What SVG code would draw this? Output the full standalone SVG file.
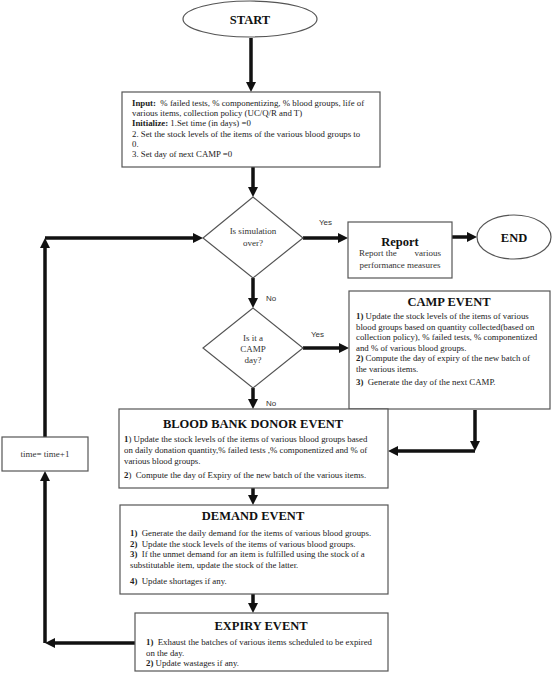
<svg xmlns="http://www.w3.org/2000/svg" width="553" height="673" viewBox="0 0 553 673">
<style>
.box{fill:#fff;stroke:#555;stroke-width:1.2}
.t{font-family:"Liberation Serif","Times New Roman",serif;font-size:8.8px;fill:#222;white-space:pre}
.dt{font-family:"Liberation Serif","Times New Roman",serif;font-size:9px;fill:#333;text-anchor:middle}
.h{font-family:"Liberation Serif","Times New Roman",serif;font-size:12.5px;font-weight:bold;fill:#111;text-anchor:middle}
.lbl{font-family:"Liberation Sans",Arial,sans-serif;font-size:8px;fill:#333}
.b{font-weight:bold}
.c{fill:none;stroke:#111;stroke-width:3.5}
</style>
<defs>
<marker id="ah" viewBox="0 0 10 10" refX="5" refY="5" markerWidth="10" markerHeight="10" markerUnits="userSpaceOnUse" orient="auto">
<path d="M0,0 L10,5 L0,10 z" fill="#111"/>
</marker>
</defs>
<rect width="553" height="673" fill="#fff"/>

<g id="connectors">
<path class="c" marker-end="url(#ah)" d="M251,38 V87"/>
<path class="c" marker-end="url(#ah)" d="M253,167 V192"/>
<path class="c" marker-end="url(#ah)" d="M303,238 H343"/>
<path class="c" marker-end="url(#ah)" d="M452,237 H472"/>
<path class="c" marker-end="url(#ah)" d="M253,278 V303"/>
<path class="c" marker-end="url(#ah)" d="M303,348 H344"/>
<path class="c" marker-end="url(#ah)" d="M253,388 V404"/>
<path class="c" marker-end="url(#ah)" d="M475,410 V446"/>
<path class="c" marker-end="url(#ah)" d="M475,451 H393"/>
<path class="c" marker-end="url(#ah)" d="M253,488 V500"/>
<path class="c" marker-end="url(#ah)" d="M253,594 V608"/>
<path class="c" marker-end="url(#ah)" d="M135,643 H50"/>
<path class="c" marker-end="url(#ah)" d="M45,643 V476"/>
<path class="c" marker-end="url(#ah)" d="M45,437 V243"/>
<path class="c" marker-end="url(#ah)" d="M45,238 H198"/>
<text class="lbl" x="319" y="225">Yes</text>
<text class="lbl" x="266" y="301">No</text>
<text class="lbl" x="311" y="337">Yes</text>
<text class="lbl" x="266" y="406">No</text>
</g>

<g id="start">
<ellipse cx="250" cy="19" rx="67" ry="18" class="box"/>
<text class="h" x="250" y="24">START</text>
</g>

<g id="input">
<rect class="box" x="122" y="92" width="258" height="75"/>
<text class="t" x="132" y="106"><tspan class="b">Input:</tspan>  % failed tests, % componentizing, % blood groups, life of</text>
<text class="t" x="132" y="116">various items, collection policy (UC/Q/R and T)</text>
<text class="t" x="132" y="126"><tspan class="b">Initialize:</tspan> 1.Set time (in days) =0</text>
<text class="t" x="132" y="137">2. Set the stock levels of the items of the various blood groups to</text>
<text class="t" x="132" y="147">0.</text>
<text class="t" x="132" y="157">3. Set day of next CAMP =0</text>
</g>

<g id="decision-sim">
<polygon class="box" points="253,197 303,238 253,278 203,238"/>
<text class="dt" x="253" y="234">Is simulation</text>
<text class="dt" x="253" y="246">over?</text>
</g>

<g id="report">
<rect class="box" x="348" y="222" width="104" height="56"/>
<text class="h" x="400" y="246">Report</text>
<text class="dt" x="359" y="256" style="text-anchor:start">Report the</text>
<text class="dt" x="441" y="256" style="text-anchor:end">various</text>
<text class="dt" x="400" y="268">performance measures</text>
</g>

<g id="end">
<ellipse cx="514" cy="237" rx="37" ry="22" class="box"/>
<text class="h" x="514" y="242">END</text>
</g>

<g id="decision-camp">
<polygon class="box" points="253,308 303,348 253,388 203,348"/>
<text class="dt" x="253" y="341">Is it a</text>
<text class="dt" x="253" y="352">CAMP</text>
<text class="dt" x="253" y="363">day?</text>
</g>

<g id="camp-event">
<rect class="box" x="349" y="291" width="201" height="118"/>
<text class="h" x="449" y="306">CAMP EVENT</text>
<text class="t" x="356" y="319"><tspan class="b">1)</tspan> Update the stock levels of the items of various</text>
<text class="t" x="356" y="329.5">blood groups based on quantity collected(based on</text>
<text class="t" x="356" y="340">collection policy), % failed tests, % componentized</text>
<text class="t" x="356" y="350.5">and % of various blood groups.</text>
<text class="t" x="356" y="361"><tspan class="b">2)</tspan> Compute the day of expiry of the new batch of</text>
<text class="t" x="356" y="371.5">the various items.</text>
<text class="t" x="356" y="385"><tspan class="b">3)</tspan>  Generate the day of the next CAMP.</text>
</g>

<g id="time">
<rect class="box" x="2" y="437" width="86" height="34"/>
<text class="dt" x="45" y="457">time= time+1</text>
</g>

<g id="donor-event">
<rect class="box" x="119" y="409" width="269" height="79"/>
<text class="h" x="253" y="428">BLOOD BANK DONOR EVENT</text>
<text class="t" x="124" y="442"><tspan class="b">1</tspan>) Update the stock levels of the items of various blood groups based</text>
<text class="t" x="124" y="453">on daily donation quantity,% failed tests ,% componentized and % of</text>
<text class="t" x="124" y="464">various blood groups.</text>
<text class="t" x="124" y="478"><tspan class="b">2</tspan>)  Compute the day of Expiry of the new batch of the various items.</text>
</g>

<g id="demand-event">
<rect class="box" x="120" y="505" width="268" height="89"/>
<text class="h" x="253" y="520">DEMAND EVENT</text>
<text class="t" x="130" y="536"><tspan class="b">1)</tspan>  Generate the daily demand for the items of various blood groups.</text>
<text class="t" x="130" y="547"><tspan class="b">2)</tspan>  Update the stock levels of the items of various blood groups.</text>
<text class="t" x="130" y="557"><tspan class="b">3)</tspan>  If the unmet demand for an item is fulfilled using the stock of a</text>
<text class="t" x="130" y="568">substitutable item, update the stock of the latter.</text>
<text class="t" x="130" y="584"><tspan class="b">4)</tspan>  Update shortages if any.</text>
</g>

<g id="expiry-event">
<rect class="box" x="135" y="613" width="253" height="58"/>
<text class="h" x="261" y="630">EXPIRY EVENT</text>
<text class="t" x="146" y="645"><tspan class="b">1)</tspan>  Exhaust the batches of various items scheduled to be expired</text>
<text class="t" x="146" y="656">on the day.</text>
<text class="t" x="146" y="666"><tspan class="b">2)</tspan> Update wastages if any.</text>
</g>
</svg>
